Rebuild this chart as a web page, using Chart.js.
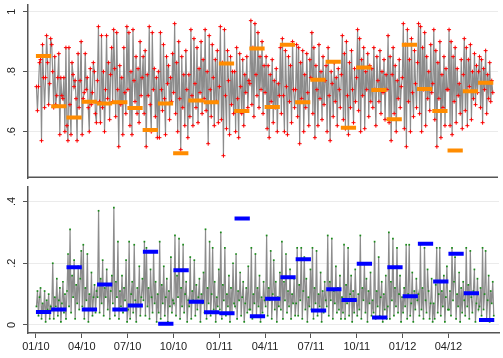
<!DOCTYPE html>
<html>
<head>
<meta charset="utf-8">
<script src="https://cdn.jsdelivr.net/npm/chart.js@4.4.1/dist/chart.umd.min.js"></script>
<style>
  html, body { margin: 0; padding: 0; background: #fff; }
  #wrap { position: relative; width: 503px; height: 358px; overflow: hidden; }
  canvas { position: absolute; left: 0; }
  #upper { top: 0; }
  #lower { top: 183px; }
</style>
</head>
<body>
<div id="wrap">
  <canvas id="upper" width="503" height="183"></canvas>
  <canvas id="lower" width="503" height="175"></canvas>
</div>
<script>
// months counted from Jan 2010 (0) ; ticks every quarter
const tickMonths = [0, 3, 6, 9, 12, 15, 18, 21, 24, 27];
const tickLabels = ['01/10', '04/10', '07/10', '10/10', '01/11', '04/11', '07/11', '10/11', '01/12', '04/12'];
const obsPerMonth = 15;

const upperTicks = [0.6, 0.8, 1];
const upperTickText = ['.6', '.8', '1'];
const lowerTicks = [0, 0.2, 0.4];
const lowerTickText = ['0', '.2', '.4'];

// daily series, one row per month
const upperDaily = [
  .75,.67,.75,.83,.84,.57,.89,.78,.68,.78,.92,.83,.69,.76,.91,
  .89,.80,.68,.85,.69,.72,.78,.86,.59,.78,.72,.71,.78,.60,.88,
  .62,.57,.88,.69,.59,.83,.79,.75,.77,.71,.57,.86,.68,.77,.90,
  .59,.71,.73,.86,.74,.78,.68,.60,.81,.69,.73,.83,.80,.66,.63,
  .77,.95,.70,.63,.92,.68,.80,.60,.74,.92,.71,.83,.64,.79,.88,
  .70,.94,.81,.65,.93,.74,.55,.82,.69,.78,.59,.88,.73,.66,.95,
  .74,.93,.62,.80,.59,.94,.77,.70,.85,.66,.81,.63,.90,.72,.78,
  .85,.66,.87,.55,.79,.72,.95,.69,.60,.93,.74,.81,.65,.78,.58,
  .80,.58,.93,.74,.67,.89,.71,.59,.85,.76,.82,.64,.78,.70,.86,
  .73,.96,.66,.83,.60,.90,.71,.54,.85,.68,.79,.62,.87,.74,.58,
  .79,.65,.94,.72,.62,.91,.76,.68,.88,.63,.81,.73,.90,.66,.84,
  .71,.94,.67,.80,.56,.92,.74,.65,.89,.78,.62,.84,.70,.87,.63,
  .75,.95,.64,.83,.52,.94,.72,.61,.87,.77,.59,.85,.69,.80,.66,
  .80,.60,.88,.71,.58,.86,.75,.66,.84,.62,.79,.73,.85,.68,.77,
  .76,.97,.69,.88,.65,.96,.79,.72,.93,.68,.85,.74,.90,.66,.82,
  .73,.85,.61,.82,.58,.79,.70,.84,.63,.77,.68,.81,.60,.76,.72,
  .88,.66,.91,.72,.60,.87,.75,.59,.85,.70,.82,.63,.90,.74,.68,
  .74,.89,.65,.88,.56,.83,.71,.87,.60,.79,.68,.86,.73,.62,.84,
  .78,.93,.66,.88,.58,.82,.74,.62,.89,.71,.80,.64,.85,.69,.77,
  .82,.60,.88,.72,.57,.80,.76,.65,.83,.70,.78,.62,.81,.74,.68,
  .79,.92,.64,.86,.61,.90,.72,.59,.83,.68,.87,.74,.63,.81,.70,
  .78,.94,.67,.91,.60,.84,.72,.88,.61,.80,.74,.86,.65,.82,.70,
  .81,.68,.88,.74,.62,.85,.77,.70,.87,.66,.80,.73,.84,.64,.79,
  .74,.92,.63,.85,.57,.79,.88,.66,.82,.60,.77,.71,.84,.68,.75,
  .78,.96,.61,.89,.55,.94,.70,.84,.60,.91,.73,.65,.87,.76,.68,
  .83,.96,.66,.95,.60,.88,.74,.93,.62,.85,.71,.80,.67,.89,.73,
  .76,.94,.64,.87,.55,.83,.71,.90,.58,.79,.68,.85,.62,.81,.74,
  .74,.94,.62,.90,.59,.85,.70,.88,.63,.81,.72,.76,.66,.84,.61,
  .79,.91,.67,.88,.62,.84,.75,.89,.64,.80,.71,.86,.69,.82,.73,
  .80,.85,.68,.84,.63,.81,.74,.87,.66,.79,.71,.83,.70,.77,.73
];

const lowerDaily = [
  .06,.11,.03,.09,.12,.02,.07,.04,.11,.01,.08,.05,.10,.02,.06,
  .05,.20,.02,.09,.06,.15,.03,.08,.12,.01,.07,.14,.04,.10,.02,
  .11,.23,.06,.31,.04,.16,.09,.21,.02,.13,.07,.19,.05,.15,.24,
  .06,.26,.02,.12,.08,.23,.01,.10,.05,.17,.03,.09,.13,.04,.11,
  .09,.37,.04,.15,.07,.21,.03,.12,.09,.18,.05,.13,.02,.11,.16,
  .07,.38,.03,.14,.09,.27,.02,.11,.06,.16,.04,.12,.08,.21,.01,
  .05,.27,.02,.10,.14,.04,.26,.08,.01,.12,.06,.19,.03,.09,.15,
  .08,.27,.03,.25,.06,.12,.02,.18,.09,.04,.24,.07,.14,.01,.10,
  .04,.27,.02,.13,.07,.19,.03,.09,.15,.01,.11,.06,.22,.04,.08,
  .07,.29,.03,.16,.09,.28,.02,.12,.06,.26,.04,.10,.14,.01,.08,
  .06,.22,.02,.11,.08,.21,.03,.13,.05,.09,.15,.01,.10,.07,.17,
  .04,.31,.02,.12,.07,.27,.03,.10,.25,.05,.14,.01,.09,.06,.18,
  .05,.30,.02,.13,.08,.25,.03,.10,.06,.16,.01,.12,.04,.20,.07,
  .06,.23,.02,.11,.08,.17,.03,.09,.14,.01,.07,.12,.04,.19,.05,
  .05,.25,.02,.10,.07,.23,.03,.12,.06,.16,.01,.09,.04,.14,.08,
  .06,.29,.03,.12,.08,.24,.02,.10,.21,.05,.14,.01,.09,.06,.17,
  .05,.27,.02,.14,.08,.23,.04,.11,.06,.18,.02,.10,.07,.15,.03,
  .07,.25,.03,.13,.08,.25,.02,.11,.22,.05,.15,.01,.09,.06,.18,
  .05,.25,.02,.12,.07,.24,.03,.10,.06,.17,.01,.11,.04,.14,.08,
  .06,.29,.03,.14,.08,.28,.02,.11,.07,.19,.04,.12,.05,.16,.02,
  .09,.04,.26,.02,.13,.07,.25,.03,.10,.16,.01,.11,.04,.18,.08,
  .03,.10,.05,.29,.02,.12,.08,.20,.04,.15,.01,.11,.07,.17,.03,
  .08,.04,.27,.02,.11,.06,.22,.03,.09,.14,.01,.10,.05,.16,.02,
  .06,.30,.02,.14,.08,.28,.03,.12,.06,.25,.04,.10,.16,.01,.09,
  .04,.12,.06,.26,.02,.10,.26,.03,.07,.17,.01,.11,.05,.15,.08,
  .10,.03,.26,.05,.12,.02,.25,.08,.04,.18,.11,.02,.07,.15,.01,
  .07,.02,.13,.25,.04,.10,.25,.03,.11,.06,.16,.01,.09,.19,.05,
  .05,.11,.03,.25,.08,.14,.22,.02,.10,.06,.17,.01,.12,.04,.14,
  .08,.03,.25,.06,.13,.02,.24,.09,.04,.11,.18,.01,.07,.15,.05,
  .06,.12,.03,.25,.05,.10,.24,.02,.08,.16,.01,.11,.07,.14,.03
];

// monthly values shown as flat bars
const upperMonthly = [
  .852, .685, .647, .700, .694, .698, .679, .606, .694, .528, .704, .698,
  .827, .669, .877, .682, .890, .698, .773, .833, .613, .814, .739, .641,
  .890, .742, .669, .537, .735, .763
];
const lowerMonthly = [
  .042, .050, .187, .050, .131, .050, .063, .237, .004, .177, .075, .041,
  .038, .345, .028, .085, .155, .213, .047, .116, .081, .198, .024, .187,
  .093, .263, .141, .231, .103, .016
];

const font = '"Liberation Sans", Arial, sans-serif';
const axisColor = '#555';

function dailyPoints(values) {
  return values.map((v, i) => ({
    x: Math.floor(i / obsPerMonth) + ((i % obsPerMonth) + 0.5) / obsPerMonth,
    y: v
  }));
}

function monthlyBars(values) {
  const pts = [];
  values.forEach((v, m) => {
    pts.push({ x: m, y: v }, { x: m + 1, y: v }, { x: m + 1, y: null });
  });
  return pts;
}

// y tick labels drawn turned on their side
const sideLabels = {
  id: 'sideLabels',
  afterDraw(chart, args, opts) {
    const ctx = chart.ctx;
    const scale = chart.scales.y;
    ctx.save();
    ctx.font = '11px ' + font;
    ctx.fillStyle = '#222';
    ctx.textAlign = 'center';
    ctx.textBaseline = 'middle';
    opts.values.forEach((v, i) => {
      ctx.save();
      ctx.translate(12, scale.getPixelForValue(v));
      ctx.rotate(-Math.PI / 2);
      ctx.fillText(opts.text[i], 0, 0);
      ctx.restore();
    });
    if (opts.divider) {
      const a = chart.chartArea;
      ctx.strokeStyle = axisColor;
      ctx.lineWidth = 1.5;
      ctx.beginPath();
      ctx.moveTo(a.left - 1, a.bottom - 0.75);
      ctx.lineTo(a.right, a.bottom - 0.75);
      ctx.stroke();
    }
    ctx.restore();
  }
};

function yScale(min, max, ticks) {
  return {
    min, max,
    afterBuildTicks: s => { s.ticks = ticks.map(v => ({ value: v })); },
    afterFit: s => { s.width = 28; },
    ticks: { display: false },
    grid: { color: '#ebebeb', lineWidth: 1, tickLength: 5, tickColor: axisColor },
    border: { color: axisColor, width: 1.5 }
  };
}

function makeChart(id, daily, monthly, opts) {
  return new Chart(document.getElementById(id), {
    type: 'line',
    data: {
      datasets: [
        {
          data: monthlyBars(monthly),
          borderColor: opts.barColor,
          borderWidth: 4,
          borderCapStyle: 'butt',
          pointRadius: 0,
          spanGaps: false,
          order: 0
        },
        {
          data: dailyPoints(daily),
          borderColor: '#8c8c8c',
          borderWidth: 1.2,
          pointStyle: opts.pointStyle,
          pointRadius: opts.pointRadius,
          pointBorderWidth: opts.pointBorderWidth,
          pointBorderColor: opts.pointColor,
          pointBackgroundColor: opts.pointColor,
          order: 1
        }
      ]
    },
    options: {
      responsive: false,
      animation: false,
      layout: { padding: 0 },
      plugins: {
        legend: { display: false },
        tooltip: { enabled: false },
        sideLabels: { values: opts.tickValues, text: opts.tickText, divider: opts.divider }
      },
      scales: {
        x: opts.xAxis,
        y: yScale(opts.yMin, opts.yMax, opts.tickValues)
      }
    },
    plugins: [sideLabels]
  });
}

const xMin = -0.52, xMax = 30.31;

makeChart('upper', upperDaily, upperMonthly, {
  barColor: '#ff8c00',
  pointStyle: 'cross',
  pointRadius: 2,
  pointBorderWidth: 1,
  pointColor: '#ff0000',
  tickValues: upperTicks,
  tickText: upperTickText,
  yMin: 0.4457,
  yMax: 1.022,
  divider: true,
  xAxis: { type: 'linear', min: xMin, max: xMax, display: false }
});

makeChart('lower', lowerDaily, lowerMonthly, {
  barColor: '#0000ff',
  pointStyle: 'rect',
  pointRadius: 1.2,
  pointBorderWidth: 0,
  pointColor: '#1a8c1a',
  tickValues: lowerTicks,
  tickText: lowerTickText,
  yMin: -0.026,
  yMax: 0.447,
  divider: false,
  xAxis: {
    type: 'linear',
    min: xMin,
    max: xMax,
    afterBuildTicks: s => { s.ticks = tickMonths.map(v => ({ value: v })); },
    afterFit: s => { s.height = 25; },
    ticks: {
      autoSkip: false,
      maxRotation: 0,
      padding: 2,
      color: '#222',
      font: { family: font, size: 11 },
      callback: v => tickLabels[tickMonths.indexOf(v)]
    },
    grid: { drawOnChartArea: false, tickLength: 5, tickColor: axisColor },
    border: { color: axisColor, width: 1.5 }
  }
});
</script>
</body>
</html>
